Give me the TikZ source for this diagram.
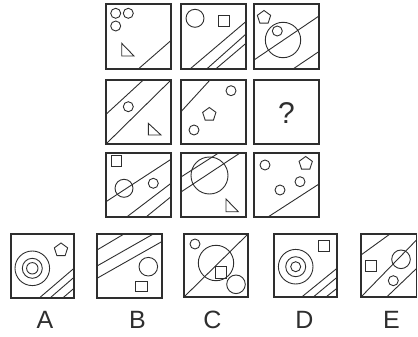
\documentclass[tikz,border=0pt]{standalone}
\usepackage{fontspec}
\setmainfont{Liberation Sans}
\begin{document}
\begin{tikzpicture}[x=1pt,y=-1pt,
  frame/.style={draw=ink,line width=1.2pt},
  fig/.style={draw=ink,line width=0.9pt},
  lbl/.style={font=\fontsize{25}{25}\selectfont,text=ink,anchor=base,inner sep=0pt},
  pent/.pic={\draw[fig] (270:7) -- (342:7) -- (54:7) -- (126:7) -- (198:7) -- cycle;}]
\definecolor{ink}{HTML}{2E2E2E}
\useasboundingbox (0,0) rectangle (418,337);
% ---------- row 1 ----------
\draw[frame] (106,4) rectangle (171,69);
\draw[fig] (115.7,13.3) circle (5) (128.3,13.3) circle (5) (115.7,26) circle (5);
\draw[fig] (121.7,43.3) -- (121.7,56) -- (134,56) -- cycle;
\draw[fig] (138.3,69) -- (171,40.5);
\draw[frame] (181,4) rectangle (246,69);
\draw[fig] (195,18.3) circle (9);
\draw[fig] (218.3,15) rectangle (229.3,26);
\draw[fig] (190,69) -- (246,21.5) (206.7,69) -- (246,34) (215.7,69) -- (246,43.3);
\draw[frame] (254,4) rectangle (319,69);
\pic at (264,17.5) {pent};
\draw[fig] (283,40) circle (17.7) (277.3,31) circle (5);
\draw[fig] (254,60) -- (319,16) (293,69) -- (319,51.5);
% ---------- row 2 ----------
\draw[frame] (106,80) rectangle (171,144);
\draw[fig] (128.3,106.7) circle (5);
\draw[fig] (148.3,123.3) -- (148.3,135) -- (161,135) -- cycle;
\draw[fig] (106,114.3) -- (143.3,80) (106,144) -- (171,80);
\draw[frame] (181,80) rectangle (246,144);
\draw[fig] (181,111.7) -- (210,80);
\draw[fig] (231,90.7) circle (5) (194,130) circle (5);
\pic at (209.3,114.5) {pent};
\draw[frame] (254,80) rectangle (319,144);
\node[font=\fontsize{30}{30}\selectfont,text=ink,inner sep=0pt] (q) at (286.5,113.5) {?};
% ---------- row 3 ----------
\draw[frame] (106,153) rectangle (171,217);
\draw[fig] (111,155.5) rectangle (121.7,166);
\draw[fig] (124,188.3) circle (9) (153.3,183.3) circle (5);
\draw[fig] (106,201.7) -- (171,159.3) (126.7,217) -- (171,183.3) (146,217) -- (171,196.7);
\draw[frame] (181,153) rectangle (246,217);
\draw[fig] (209.5,175.5) circle (18.5);
\draw[fig] (181,177) -- (218.5,153) (181,192) -- (240,153);
\draw[fig] (226,199) -- (226,211.7) -- (238.3,211.7) -- cycle;
\draw[frame] (254,153) rectangle (319,217);
\draw[fig] (265,165) circle (5) (300,181.7) circle (5) (280,190) circle (5);
\pic at (305.7,163.5) {pent};
\draw[fig] (268,217) -- (319,184);
% ---------- options ----------
\draw[frame] (11,234) rectangle (74,298);
\draw[fig] (32.3,268.3) circle (17.3) circle (10) circle (5.7);
\pic at (61,250) {pent};
\draw[fig] (39.3,298) -- (74,268.3) (50,298) -- (74,277.3) (62.7,298) -- (74,288.3);
\draw[frame] (97,234) rectangle (162,298);
\draw[fig] (97,250) -- (124,234) (97,266) -- (153.3,234) (97,278.3) -- (162,241.5);
\draw[fig] (148.3,266.7) circle (9.3);
\draw[fig] (135.7,281) rectangle (147.3,291.7);
\draw[frame] (184,234) rectangle (248,297);
\draw[fig] (184,297) -- (248,234);
\draw[fig] (195,244) circle (5) (216,263) circle (17.7) (236,284.3) circle (9.3);
\draw[fig] (215,266.7) rectangle (226,278.3);
\draw[frame] (274,234) rectangle (337,297);
\draw[fig] (295.7,266.7) circle (17.3) circle (10) circle (5);
\draw[fig] (318.3,240.7) rectangle (329.3,251.7);
\draw[fig] (301.7,297) -- (337,268.3) (313.3,297) -- (337,277.3) (326,297) -- (337,288.3);
\draw[frame] (361,234) rectangle (416.5,297);
\draw[fig] (361,255) -- (390,234) (361,297) -- (416.5,240) (386.7,297) -- (416.5,268.5);
\draw[fig] (401,259.3) circle (9.3) (393.3,280.7) circle (5);
\draw[fig] (365.7,260) rectangle (376.7,271);
\node[lbl] (la) at (45,328) {A};
\node[lbl] (lb) at (137.5,328) {B};
\node[lbl] (lc) at (212.5,328) {C};
\node[lbl] (ld) at (304.5,328) {D};
\node[lbl] (le) at (391.5,328) {E};
\end{tikzpicture}
\end{document}
